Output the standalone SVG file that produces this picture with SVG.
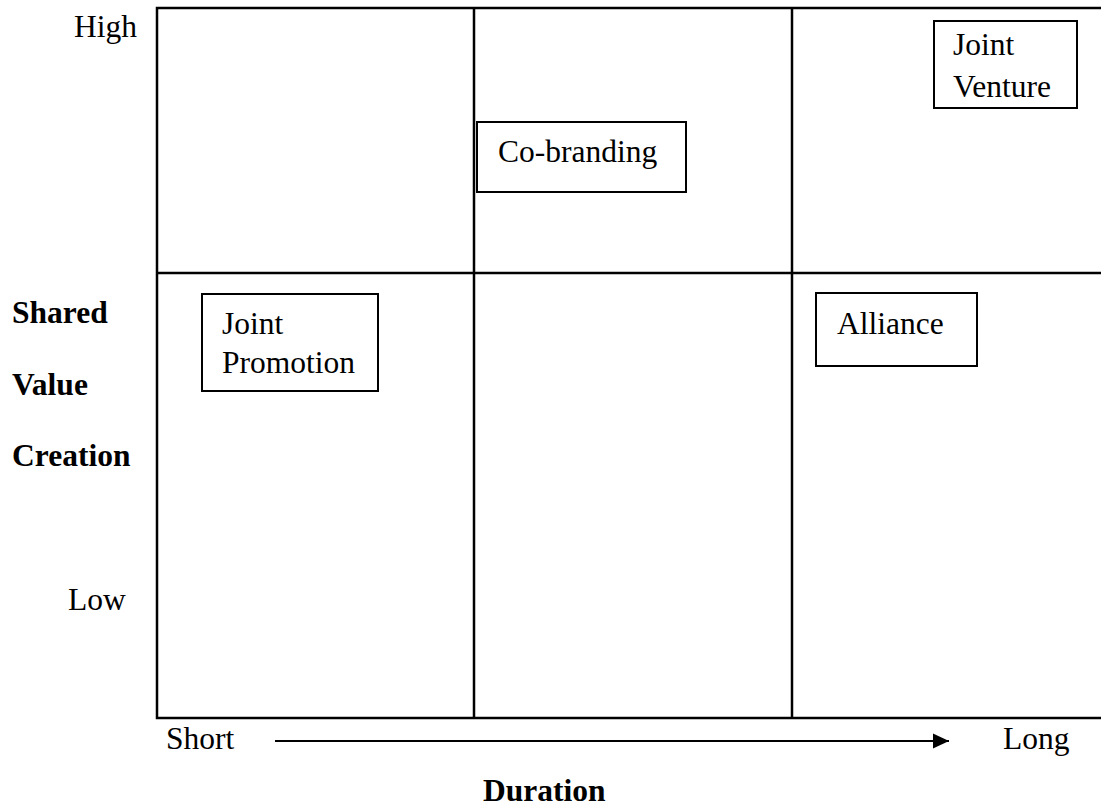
<svg xmlns="http://www.w3.org/2000/svg" width="1101" height="809" viewBox="0 0 1101 809">
  <style>
    text { font-family: "Liberation Serif", "Times New Roman", serif; font-size: 31.5px; fill: #000; }
    .bold { font-weight: bold; }
    .grid { fill: none; stroke: #000; stroke-width: 2.5; }
    .box { fill: #fff; stroke: #000; stroke-width: 2; }
    .axis { stroke: #000; stroke-width: 2; fill: none; }
  </style>
  <defs>
    <marker id="arrowhead" markerWidth="16" markerHeight="16" refX="16" refY="8" orient="auto" markerUnits="userSpaceOnUse">
      <path d="M0,0.5 L16,8 L0,15.5 Z" fill="#000"/>
    </marker>
  </defs>
  <rect width="1101" height="809" fill="#fff"/>

  <!-- matrix grid -->
  <g id="grid">
    <rect class="grid" x="157" y="8" width="960" height="710"/>
    <line class="grid" x1="157" y1="273" x2="1117" y2="273"/>
    <line class="grid" x1="474" y1="8" x2="474" y2="718"/>
    <line class="grid" x1="792" y1="8" x2="792" y2="718"/>
  </g>

  <!-- axis labels -->
  <g id="y-axis">
    <text x="74" y="37">High</text>
    <text x="68" y="610">Low</text>
    <text class="bold" x="12" y="323">Shared</text>
    <text class="bold" x="12" y="395">Value</text>
    <text class="bold" x="12" y="466">Creation</text>
  </g>
  <g id="x-axis">
    <text x="166" y="749">Short</text>
    <text x="1003" y="749">Long</text>
    <text class="bold" x="483" y="801">Duration</text>
  </g>

  <!-- connectors -->
  <g id="connectors">
    <line class="axis" x1="275" y1="741" x2="949" y2="741" marker-end="url(#arrowhead)"/>
  </g>

  <!-- partnership types -->
  <g id="co-branding">
    <rect class="box" x="477" y="122" width="209" height="70"/>
    <text x="498" y="162">Co-branding</text>
  </g>
  <g id="joint-venture">
    <rect class="box" x="934" y="21" width="143" height="87"/>
    <text x="953" y="55">Joint</text>
    <text x="953" y="97">Venture</text>
  </g>
  <g id="joint-promotion">
    <rect class="box" x="202" y="294" width="176" height="97"/>
    <text x="222" y="334">Joint</text>
    <text x="222" y="373">Promotion</text>
  </g>
  <g id="alliance">
    <rect class="box" x="816" y="293" width="161" height="73"/>
    <text x="837" y="334">Alliance</text>
  </g>
</svg>
